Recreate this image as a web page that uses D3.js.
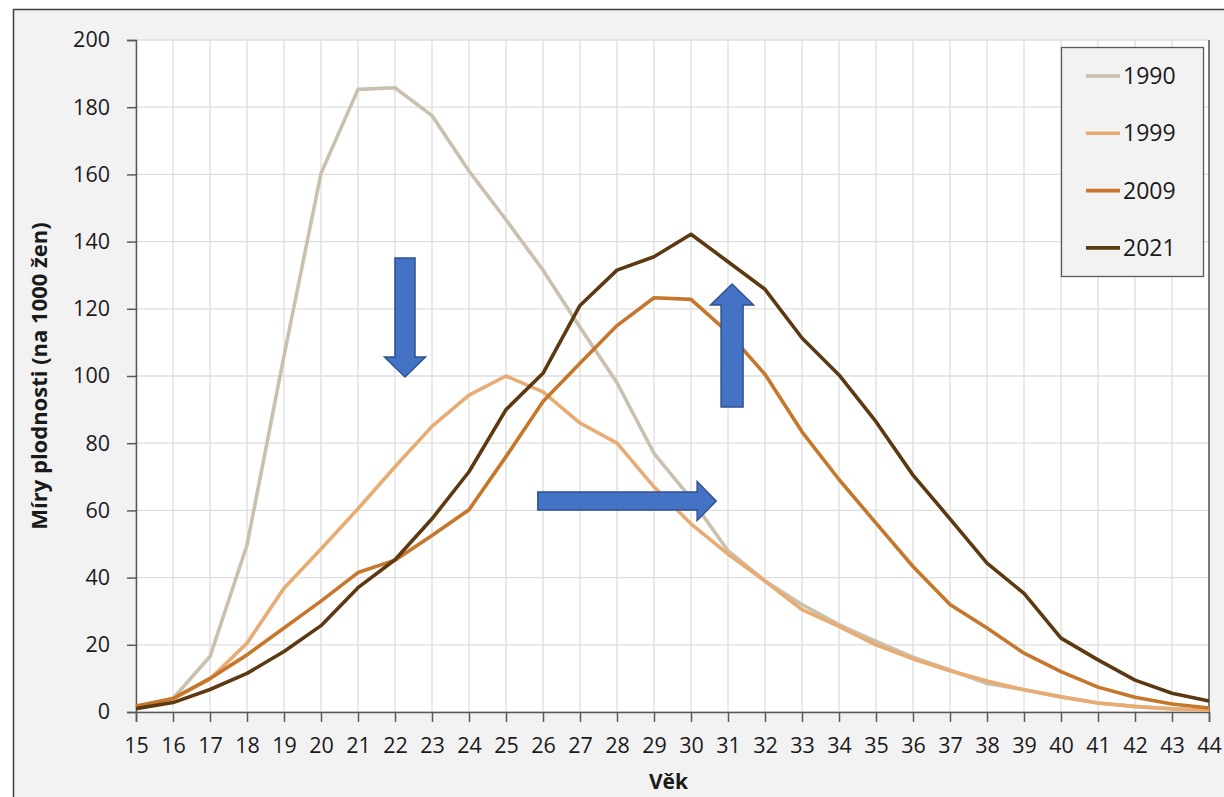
<!DOCTYPE html>
<html>
<head>
<meta charset="utf-8">
<script src="https://cdn.jsdelivr.net/npm/d3@7"></script>
<style>
  body { margin: 0; background: #ffffff; }
  svg { display: block; font-family: "Open Sans", "Noto Sans", sans-serif; }
</style>
</head>
<body>
<svg id="chart" width="1224" height="797"></svg>
<script>
// ages on the x axis
const ages = d3.range(15, 45);

// fertility rates per 1000 women
const rates1990 = [1.5, 4, 16.5, 49.7, 106, 160.3, 185.3, 185.8, 177.5, 161, 146.5, 131.5, 114.5, 98, 77, 63.5, 48, 39, 32, 26, 21, 16.3, 12.5, 8.5, 6.6, 4.5, 2.7, 1.7, 1, 0.6];
const rates1999 = [1.5, 4, 9.8, 20.5, 36.8, 48.5, 60.5, 73, 85, 94.3, 100, 95.3, 86, 80, 67, 56, 47, 39, 30.5, 25.5, 20, 15.8, 12.3, 9.2, 6.6, 4.5, 2.7, 1.6, 0.9, 0.5];
const rates2009 = [1.8, 4, 10, 17, 25, 33, 41.5, 45.2, 52.5, 60.2, 76, 92.4, 103.8, 115, 123.3, 122.8, 113, 100.5, 83.4, 69.2, 56.2, 43.3, 32, 25, 17.5, 12, 7.4, 4.4, 2.4, 1.2];
const rates2021 = [1, 2.8, 6.7, 11.5, 18, 25.7, 37, 45.3, 57.5, 71.5, 90, 100.8, 121, 131.5, 135.5, 142.2, 134, 125.8, 111.3, 100.3, 86.4, 70.5, 57.5, 44.3, 35.3, 22, 15.5, 9.5, 5.6, 3.3];

const seriesNames = ['1990', '1999', '2009', '2021'];
const seriesValues = [rates1990, rates1999, rates2009, rates2021];
const seriesColors = ['#c9c0ae', '#e8ab72', '#c6772b', '#5d3912'];

const yTicks = d3.range(0, 201, 20);

const svg = d3.select('#chart');

// chart frame
svg.append('rect')
  .attr('x', 13.5).attr('y', 9.5)
  .attr('width', 1240).attr('height', 820)
  .style('fill', '#f2f2f2')
  .style('stroke', '#404040')
  .style('stroke-width', 1.5);

const plot = { left: 136, right: 1209, top: 40, bottom: 712 };

const x = d3.scaleLinear().domain([15, 44]).range([plot.left, plot.right]);
const y = d3.scaleLinear().domain([0, 200]).range([plot.bottom, plot.top]);

// plot background
svg.append('rect')
  .attr('x', plot.left).attr('y', plot.top)
  .attr('width', plot.right - plot.left)
  .attr('height', plot.bottom - plot.top)
  .style('fill', '#ffffff');

// gridlines
svg.append('g')
  .selectAll('line')
  .data(ages)
  .join('line')
  .attr('x1', d => x(d)).attr('x2', d => x(d))
  .attr('y1', plot.top).attr('y2', plot.bottom)
  .style('stroke', '#dedede')
  .style('stroke-width', 1.3);

svg.append('g')
  .selectAll('line')
  .data(yTicks)
  .join('line')
  .attr('x1', plot.left).attr('x2', plot.right)
  .attr('y1', d => y(d)).attr('y2', d => y(d))
  .style('stroke', '#dedede')
  .style('stroke-width', 1.3);

// right border of the plot area
svg.append('line')
  .attr('x1', plot.right).attr('x2', plot.right)
  .attr('y1', plot.top).attr('y2', plot.bottom)
  .style('stroke', '#404040')
  .style('stroke-width', 1.3);

// axes
const yAxis = svg.append('g')
  .attr('transform', `translate(${plot.left},0)`)
  .call(d3.axisLeft(y).tickValues(yTicks).tickSize(9).tickPadding(17));

const xAxis = svg.append('g')
  .attr('transform', `translate(0,${plot.bottom})`)
  .call(d3.axisBottom(x).tickValues(ages).tickSize(10).tickPadding(16).tickFormat(d3.format('d')));

[yAxis, xAxis].forEach(ax => {
  ax.select('.domain').style('stroke', '#595959').style('stroke-width', 1.5);
  ax.selectAll('.tick line').style('stroke', '#595959').style('stroke-width', 1.5);
  ax.selectAll('.tick text')
    .style('font-family', '"Open Sans", sans-serif')
    .style('font-size', '21.5px')
    .style('fill', '#1a1a1a');
});

// axis titles
svg.append('text')
  .attr('transform', `translate(47,${(plot.top + plot.bottom) / 2}) rotate(-90)`)
  .attr('text-anchor', 'middle')
  .style('font-size', '22px')
  .style('font-weight', 'bold')
  .style('fill', '#1a1a1a')
  .text('Míry plodnosti (na 1000 žen)');

svg.append('text')
  .attr('x', (plot.left + plot.right) / 2 - 4)
  .attr('y', 789)
  .attr('text-anchor', 'middle')
  .style('font-size', '21px')
  .style('font-weight', 'bold')
  .style('fill', '#1a1a1a')
  .text('Věk');

// series lines
const line = d3.line()
  .x((d, i) => x(ages[i]))
  .y(d => y(d));

seriesValues.forEach((vals, k) => {
  svg.append('path')
    .datum(vals)
    .attr('d', line)
    .style('fill', 'none')
    .style('stroke', seriesColors[k])
    .style('stroke-width', 3.6)
    .style('stroke-linejoin', 'round');
});

// arrows (positioned in data units, sizes in px)
function arrow(x0, y0, x1, y1, shaft, headW, headL) {
  let dx = x1 - x0, dy = y1 - y0;
  let len = Math.sqrt(dx * dx + dy * dy);
  let ux = dx / len, uy = dy / len;
  let nx = -uy, ny = ux;
  let bx = x1 - ux * headL, by = y1 - uy * headL;
  let pts = [
    [x0 + nx * shaft / 2, y0 + ny * shaft / 2],
    [bx + nx * shaft / 2, by + ny * shaft / 2],
    [bx + nx * headW / 2, by + ny * headW / 2],
    [x1, y1],
    [bx - nx * headW / 2, by - ny * headW / 2],
    [bx - nx * shaft / 2, by - ny * shaft / 2],
    [x0 - nx * shaft / 2, y0 - ny * shaft / 2]
  ];
  svg.append('path')
    .attr('d', 'M' + pts.map(p => p.join(',')).join('L') + 'Z')
    .style('fill', '#4472c4')
    .style('stroke', '#2f528f')
    .style('stroke-width', 1.5);
}

arrow(x(22.27), y(135.1), x(22.27), y(99.7), 20, 41, 20);
arrow(x(25.86), y(62.8), x(30.68), y(62.8), 18, 39, 19);
arrow(x(31.11), y(90.8), x(31.11), y(127.4), 22, 43, 21);

// legend
const legend = svg.append('g');
legend.append('rect')
  .attr('x', 1061.5).attr('y', 47.5)
  .attr('width', 142).attr('height', 229)
  .style('fill', '#f2f2f2')
  .style('stroke', '#595959')
  .style('stroke-width', 1.3);

seriesNames.forEach((name, k) => {
  let ly = 76 + k * 57.3;
  legend.append('line')
    .attr('x1', 1086).attr('x2', 1120)
    .attr('y1', ly).attr('y2', ly)
    .style('stroke', seriesColors[k])
    .style('stroke-width', 3.6);
  legend.append('text')
    .attr('x', 1123).attr('y', ly)
    .attr('dy', '0.35em')
    .style('font-size', '23px')
    .style('fill', '#1a1a1a')
    .text(name);
});
</script>
</body>
</html>
